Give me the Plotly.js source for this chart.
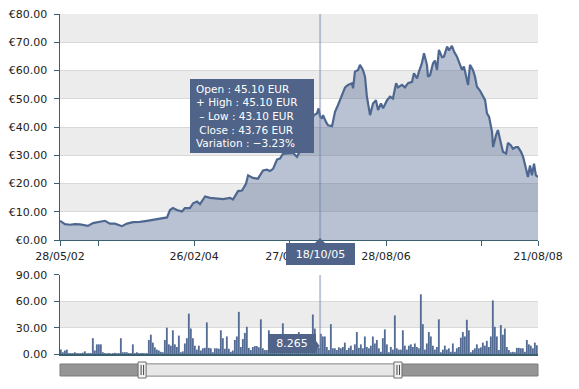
<!DOCTYPE html>
<html>
<head>
<meta charset="utf-8">
<script src="https://cdn.plot.ly/plotly-3.0.1.min.js"></script>
<style>html,body{margin:0;padding:0;background:#fff;}#chart{width:579px;height:389px;}</style>
</head>
<body>
<div id="chart"></div>
<script>
// ---- data ----
const priceDates = ['2002-05-28','2002-06-21','2002-07-15','2002-08-07','2002-08-31','2002-09-24','2002-10-08','2002-11-01','2002-12-05','2002-12-28',
'2003-01-21','2003-02-14','2003-03-19','2003-04-12','2003-05-11','2003-06-13','2003-07-16','2003-08-14','2003-09-16','2003-10-20',
'2003-11-03','2003-11-17','2003-12-06','2003-12-30','2004-01-13','2004-02-06','2004-02-21','2004-03-11','2004-03-25','2004-04-18',
'2004-05-12','2004-06-14','2004-07-12','2004-08-15','2004-08-29','2004-09-22','2004-10-11','2004-10-30','2004-11-09','2004-12-02',
'2004-12-26','2005-01-19','2005-02-07','2005-02-21','2005-03-08','2005-03-27','2005-04-10','2005-04-24','2005-05-28','2005-06-11',
'2005-06-30','2005-07-14','2005-08-02','2005-08-21','2005-09-05','2005-09-19','2005-10-03','2005-10-11','2005-10-18','2005-10-27',
'2005-11-01','2005-11-15','2005-11-25','2005-12-14','2005-12-28','2006-01-11','2006-01-30','2006-02-14','2006-02-28','2006-03-19',
'2006-03-24','2006-04-02','2006-04-17','2006-04-26','2006-05-10','2006-05-20','2006-05-29','2006-06-13','2006-06-27','2006-07-11',
'2006-07-21','2006-08-04','2006-08-14','2006-09-02','2006-09-16','2006-09-30','2006-10-15','2006-10-24','2006-11-12','2006-11-26',
'2006-12-11','2006-12-30','2007-01-08','2007-01-23','2007-02-01','2007-02-15','2007-02-25','2007-03-11','2007-03-16','2007-03-26',
'2007-04-09','2007-04-18','2007-04-28','2007-05-07','2007-05-22','2007-05-31','2007-06-15','2007-06-24','2007-07-08','2007-07-18',
'2007-08-01','2007-08-11','2007-08-25','2007-09-03','2007-09-13','2007-09-23','2007-10-02','2007-10-16','2007-10-26','2007-11-04',
'2007-11-19','2007-12-03','2007-12-13','2007-12-22','2008-01-01','2008-01-15','2008-01-20','2008-02-03','2008-02-12','2008-02-27',
'2008-03-07','2008-03-22','2008-03-31','2008-04-14','2008-04-24','2008-05-08','2008-05-18','2008-06-01','2008-06-11','2008-06-25',
'2008-07-04','2008-07-14','2008-07-23','2008-08-02','2008-08-11','2008-08-21'];

const closePrices = [6.8,5.6,5.4,5.6,5.5,5.2,5.0,6.0,6.4,6.8,
5.8,5.8,4.9,5.8,6.3,6.4,6.8,7.1,7.4,8.0,
10.6,11.3,10.6,10.1,11.3,11.3,13.0,13.6,12.7,15.4,
14.9,14.8,14.5,14.9,14.3,17.3,17.5,19.9,22.9,22.0,
21.7,24.6,24.9,24.4,25.2,28.5,28.8,30.5,30.8,30.8,
29.4,31.5,35,39,42,44.2,44.8,46.6,43.76,43.0,
44.2,41.8,40.6,40.3,45.4,47.7,51.3,54.0,54.9,55.5,
53.7,59.6,60.2,62.0,60.2,57.8,50.7,44.2,48.3,49.5,
46.0,48.3,46.6,49.5,50.7,50.1,55.5,54.0,54.9,54.0,
55.5,56.0,59.0,57.2,59.6,62.6,66.1,62.0,57.8,58.4,
62.6,63.5,60.2,67.3,64.7,64.9,68.5,67.1,68.7,66.7,
64.9,63.2,60.2,61.4,57.8,54.9,62.0,60.2,57.8,54.3,
52.8,50.7,49.5,44.8,43.6,38.3,32.9,37.1,38.9,34.1,
31.2,30.6,34.4,33.5,32.3,32.9,32.9,31.2,29.4,25.2,
22.3,26.4,22.9,27.0,22.9,22.3];

// volume, one bar per equal time step starting at volumeStart
const volumeStart = '2002-06-01';
const volumeStepMs = 823150000;
const volume = [5,2,4,5,1,1,1,2,1,1,
1,1.5,3,1,1,1,18,4,11,11,
11,2,1,0.8,1.2,0.6,1,1.4,0.9,1,
18,2,2,2,1,1,11,1,2,1,
1,1.2,0.8,1,16,22,13,7.6,5,4,
2.5,2,16,30,11,9.5,27,11,8,21,
2,3,12,18,46,29,18,9.5,5,9.5,
4,6.5,7,36,7,6.5,2,6.5,6.5,
6,27,18,6,20,6,2.5,4,16,20,
48,8,17,24,31,7,4.5,8,9,9,
7.6,39.5,6.5,4.5,4.5,27,8,5,10,6,
9,5,35,7,12,6,8,5,10,7,
25,6,9,5,12,7,10,45,29,6,
7,23,20,20,8,4.5,34,6.5,6.5,4.5,
7.6,6.5,8,13,4.5,7,9.5,4.5,11,25,
7,11,6.5,20,8,6.5,9.5,20,12,16,
6.5,
2.5,18,28,11,2,8,5,44,6.5,5,
5,27,9.5,5,9.5,11,8,12,8,6.5,
68,34,5,12,25,20,9.5,5,8,39.5,
2,5,9.5,5,6.5,2.5,12,2.5,6.5,8,
18.6,25,20,39,27,2,4.5,6.5,11,6.5,
7.6,13,9.5,15,8,20,61,31,20,4.5,
33,22,29,8,4.5,2,2.5,2,7,7,
6.5,6.5,2.5,16,11,9.5,6.5,13,10];

const rangeStart = '2002-05-28', rangeEnd = '2008-08-21';
const tickDates = ['2002-05-28','2002-11-26','2004-02-26','2005-05-27','2006-08-28','2007-11-28','2008-08-21'];
const tickLabels = ['28/05/02','','26/02/04','27/05/05','28/08/06','','21/08/08'];

const cursorDate = '2005-10-18';
const cursorLabel = '18/10/05';
const cursorVolume = '8.265';
const tooltipLines = ['Open : 45.10 EUR','+ High : 45.10 EUR','\u00a0– Low : 43.10 EUR','\u00a0Close : 43.76 EUR','Variation : −3.23%'];
const sliderFrom = '2003-06-23', sliderTo = '2006-10-24';

const priceBands = [[70,80],[50,60],[30,40],[10,20]];
const volumeBands = [[30,60]];

// ---- style ----
const axisC = '#3a5f6e';
const lineC = '#4e6790';
const boxC = '#4f6488';
const font = 'DejaVu Sans, Verdana, sans-serif';

const shapes = [];
priceBands.forEach(b => shapes.push({type:'rect', xref:'paper', yref:'y', x0:0, x1:1, y0:b[0], y1:b[1], fillcolor:'#ececec', line:{width:0}, layer:'below'}));
volumeBands.forEach(b => shapes.push({type:'rect', xref:'paper', yref:'y2', x0:0, x1:1, y0:b[0], y1:b[1], fillcolor:'#ececec', line:{width:0}, layer:'below'}));
// crosshair
shapes.push({type:'line', xref:'x', yref:'y', x0:cursorDate, x1:cursorDate, y0:0, y1:80, line:{color:'rgba(110,130,170,0.45)', width:2}});
shapes.push({type:'line', xref:'x', yref:'y2', x0:cursorDate, x1:cursorDate, y0:0, y1:90, line:{color:'rgba(110,130,170,0.45)', width:2}});
// pointers of the cursor labels
shapes.push({type:'path', xref:'paper', yref:'paper', path:'M 0.5335 0.3265 L 0.5439 0.3412 L 0.5544 0.3265 Z', fillcolor:boxC, line:{width:0}});
shapes.push({type:'path', xref:'paper', yref:'paper', path:'M 0.5330 0.0441 L 0.5430 0.0235 L 0.5330 0.0029 Z', fillcolor:boxC, line:{width:0}});
// range slider
const sy0 = -0.0647, sy1 = -0.0294;
shapes.push({type:'rect', xref:'paper', yref:'paper', x0:0, x1:1, y0:sy0, y1:sy1, fillcolor:'#959595', line:{color:'#7c7c7c', width:1}});
shapes.push({type:'rect', xref:'x', yref:'paper', x0:sliderFrom, x1:sliderTo, y0:sy0, y1:sy1, fillcolor:'#e7e7e7', line:{color:'#a0a0a0', width:1}});
[sliderFrom, sliderTo].forEach(d => {
  shapes.push({type:'rect', xref:'x', yref:'paper', xsizemode:'pixel', xanchor:d, x0:-4, x1:4, y0:-0.0706, y1:-0.0235, fillcolor:'#f4f4f4', line:{color:'#6d6d6d', width:1}});
  shapes.push({type:'line', xref:'x', yref:'paper', xsizemode:'pixel', xanchor:d, x0:-1, x1:-1, y0:-0.0620, y1:-0.0320, line:{color:'#444', width:1}});
  shapes.push({type:'line', xref:'x', yref:'paper', xsizemode:'pixel', xanchor:d, x0:1.5, x1:1.5, y0:-0.0620, y1:-0.0320, line:{color:'#444', width:1}});
});

const annotations = [
  {xref:'paper', yref:'paper', x:0.4017, y:0.70, xanchor:'center', yanchor:'middle', showarrow:false,
   text:tooltipLines.join('<br>'), align:'left', valign:'middle', bgcolor:boxC, borderpad:6, borderwidth:0,
   width:112, height:62, font:{family:font, size:10.5, color:'#ffffff'}},
  {xref:'x', yref:'paper', x:cursorDate, y:0.294, xanchor:'center', yanchor:'middle', showarrow:false,
   text:cursorLabel, bgcolor:boxC, borderpad:4, borderwidth:0, width:61, height:14,
   font:{family:font, size:11, color:'#ffffff'}},
  {xref:'paper', yref:'paper', x:0.5356, y:0.0309, xanchor:'right', yanchor:'middle', showarrow:false,
   text:cursorVolume, bgcolor:boxC, borderpad:4, borderwidth:0, width:40, height:11,
   font:{family:font, size:11, color:'#ffffff'}}
];

const traces = [
  {type:'scatter', mode:'lines', x:priceDates, y:closePrices, xaxis:'x', yaxis:'y',
   fill:'tozeroy', fillcolor:'rgba(78,103,144,0.4)', line:{color:lineC, width:2.2}, hoverinfo:'skip'},
  {type:'bar', x0:volumeStart, dx:volumeStepMs, y:volume, xaxis:'x2', yaxis:'y2',
   marker:{color:'#546c94', line:{width:0}}, hoverinfo:'skip'}
];

const layout = {
  width:579, height:389,
  margin:{l:60, r:41, t:14, b:35},
  paper_bgcolor:'#ffffff', plot_bgcolor:'#ffffff',
  showlegend:false, bargap:0.08,
  font:{family:font, size:11, color:'#222'},
  xaxis:{type:'date', range:[rangeStart, rangeEnd], anchor:'y', domain:[0,1],
    tickmode:'array', tickvals:tickDates, ticktext:tickLabels,
    ticks:'outside', ticklen:5, tickcolor:axisC, tickwidth:1,
    showline:true, linecolor:axisC, linewidth:1.5, showgrid:false, zeroline:false, fixedrange:true},
  yaxis:{domain:[0.3353,1], range:[0,80], dtick:10, tickprefix:'€', tickformat:'.2f',
    ticks:'outside', ticklen:5, tickcolor:axisC, showline:true, linecolor:axisC, linewidth:1.5,
    gridcolor:'#d9d9d9', gridwidth:1, zeroline:false, fixedrange:true, ticklabelstandoff:4},
  xaxis2:{type:'date', matches:'x', anchor:'y2', showticklabels:false, ticks:'',
    showline:true, linecolor:axisC, linewidth:1.5, showgrid:false, zeroline:false, fixedrange:true},
  yaxis2:{domain:[0,0.2324], range:[0,90], dtick:30, tickformat:'.2f',
    ticks:'outside', ticklen:5, tickcolor:axisC, showline:true, linecolor:axisC, linewidth:1.5,
    gridcolor:'#d9d9d9', gridwidth:1, zeroline:false, fixedrange:true, ticklabelstandoff:4},
  shapes:shapes, annotations:annotations
};

Plotly.newPlot('chart', traces, layout, {displayModeBar:false, staticPlot:true});
</script>
</body>
</html>
